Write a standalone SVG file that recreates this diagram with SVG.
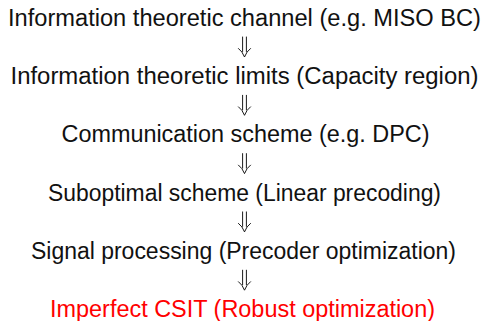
<svg xmlns="http://www.w3.org/2000/svg" width="485" height="321" viewBox="0 0 485 321">
<style>
.t{font-family:"Liberation Sans","DejaVu Sans",sans-serif;font-size:23.5px;fill:#111;text-anchor:middle}
.red{fill:#ff0000}
.a{fill:none;stroke:#000;stroke-width:0.9;stroke-linecap:round}
</style>
<defs>
<path id="arr" class="a" d="M-1.9,0 V14.5 M1.9,0 V14.5 M-6,11.5 Q-2,14.5 0,20 Q2,14.5 6,11.5"/>
</defs>
<rect width="485" height="321" fill="#fff"/>
<g id="n1"><text class="t" x="244.5" y="26" textLength="473" lengthAdjust="spacingAndGlyphs">Information theoretic channel (e.g. MISO BC)</text></g>
<g id="n2"><text class="t" x="244.5" y="84" textLength="468" lengthAdjust="spacingAndGlyphs">Information theoretic limits (Capacity region)</text></g>
<g id="n3"><text class="t" x="245.5" y="142" textLength="368" lengthAdjust="spacingAndGlyphs">Communication scheme (e.g. DPC)</text></g>
<g id="n4"><text class="t" x="244.5" y="200.5" textLength="393" lengthAdjust="spacingAndGlyphs">Suboptimal scheme (Linear precoding)</text></g>
<g id="n5"><text class="t" x="243.5" y="258.5" textLength="425" lengthAdjust="spacingAndGlyphs">Signal processing (Precoder optimization)</text></g>
<g id="n6"><text class="t red" x="242.5" y="316.5" textLength="385" lengthAdjust="spacingAndGlyphs">Imperfect CSIT (Robust optimization)</text></g>
<g id="connectors">
<use href="#arr" x="244.5" y="37"/>
<use href="#arr" x="244.5" y="95.3"/>
<use href="#arr" x="244.5" y="153.6"/>
<use href="#arr" x="244.5" y="211.9"/>
<use href="#arr" x="244.5" y="270.2"/>
</g>
</svg>
